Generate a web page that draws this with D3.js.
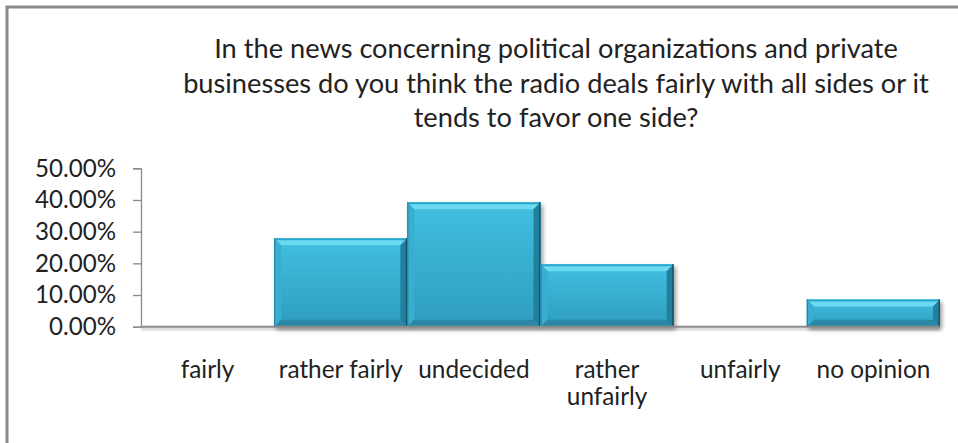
<!DOCTYPE html>
<html>
<head>
<meta charset="utf-8">
<script src="https://cdn.jsdelivr.net/npm/d3@7/dist/d3.min.js"></script>
<style>
  html, body { margin: 0; padding: 0; background: #fff; }
  svg { display: block; }
  text { font-family: Lato, "Open Sans", sans-serif; fill: #222; }
</style>
</head>
<body>
<svg id="chart" width="958" height="443"></svg>
<script>
// Survey answers and their shares
const categories = ["fairly", "rather fairly", "undecided", "rather unfairly", "unfairly", "no opinion"];
const shares = [0, 0.279, 0.393, 0.197, 0, 0.086];
const tickValues = [0, 0.1, 0.2, 0.3, 0.4, 0.5];
const titleLines = [
  "In the news concerning political organizations and private",
  "businesses do you think the radio deals fairly with all sides or it",
  "tends to favor one side?"
];

const svg = d3.select("#chart");
const W = 958, H = 443;

// Outer frame (runs past the right and bottom edges)
svg.append("rect")
  .attr("x", 7).attr("y", 7)
  .attr("width", W + 10).attr("height", H + 10)
  .attr("fill", "#fff")
  .attr("stroke", "#8a8a8a").attr("stroke-width", 3);

const defs = svg.append("defs");
const grad = defs.append("linearGradient").attr("id", "barBody")
  .attr("x1", 0).attr("y1", 0).attr("x2", 0).attr("y2", 1);
grad.append("stop").attr("offset", "0%").attr("stop-color", "#41bfe2");
grad.append("stop").attr("offset", "100%").attr("stop-color", "#2f9dbd");

const shadow = defs.append("filter").attr("id", "barShadow")
  .attr("x", "-10%").attr("y", "-10%").attr("width", "130%").attr("height", "140%");
shadow.append("feGaussianBlur").attr("in", "SourceAlpha").attr("stdDeviation", 2).attr("result", "b");
shadow.append("feOffset").attr("in", "b").attr("dx", 2).attr("dy", 3).attr("result", "o");
shadow.append("feComponentTransfer").attr("in", "o").attr("result", "s")
  .append("feFuncA").attr("type", "linear").attr("slope", 0.4);
const merge = shadow.append("feMerge");
merge.append("feMergeNode").attr("in", "s");
merge.append("feMergeNode").attr("in", "SourceGraphic");

// Scales
const x = d3.scaleBand().domain(categories).range([141, 940]).padding(0);
const y = d3.scaleLinear().domain([0, 0.5]).range([326.7, 168.3]);

// Size a group of texts so that one reference text reaches a given width
function fitSize(sel, refNode, baseSize, width) {
  const s = baseSize * width / refNode.getComputedTextLength();
  sel.attr("font-size", s);
  return s;
}

// Title
const title = svg.append("g");
titleLines.forEach((line, i) =>
  title.append("text")
    .attr("x", 556).attr("y", 58 + i * 34.5)
    .attr("text-anchor", "middle")
    .attr("font-size", 21)
    .text(line));
fitSize(title.selectAll("text"), title.selectAll("text").nodes()[1], 21, 746);

// Y axis
const yAxis = svg.append("g").attr("transform", "translate(141,0)")
  .call(d3.axisLeft(y).tickValues(tickValues).tickSize(8).tickPadding(17)
    .tickFormat(d => (d * 100).toFixed(2) + "%"));
yAxis.select(".domain").attr("stroke", "#8a8a8a").attr("stroke-width", 1.3);
yAxis.selectAll(".tick line").attr("stroke", "#8a8a8a").attr("stroke-width", 1.3);
const tickText = yAxis.selectAll(".tick text")
  .attr("font-size", 19).attr("fill", "#222")
  .style("font-family", "Lato, sans-serif");
fitSize(tickText, tickText.nodes()[tickText.size() - 1], 19, 81);

// Bars with bevelled edges
const bars = svg.append("g");
const bv = 7;
categories.forEach((c, i) => {
  const v = shares[i];
  if (v <= 0) return;
  const x0 = x(c), x1 = x(c) + x.bandwidth();
  const y0 = y(v), y1 = y(0);
  const g = bars.append("g").attr("filter", "url(#barShadow)");
  g.append("rect").attr("x", x0).attr("y", y0)
    .attr("width", x1 - x0).attr("height", y1 - y0)
    .attr("fill", "url(#barBody)");
  const b = Math.min(bv, (y1 - y0) / 2);
  // top bevel
  g.append("polygon")
    .attr("points", [[x0, y0], [x1, y0], [x1 - b, y0 + b], [x0 + b, y0 + b]].join(" "))
    .attr("fill", "#6cdbf2");
  // left bevel
  g.append("polygon")
    .attr("points", [[x0, y0], [x0 + b, y0 + b], [x0 + b, y1 - b], [x0, y1]].join(" "))
    .attr("fill", "#38aed2");
  // right bevel
  g.append("polygon")
    .attr("points", [[x1, y0], [x1, y1], [x1 - b, y1 - b], [x1 - b, y0 + b]].join(" "))
    .attr("fill", "#24809d");
  // bottom bevel
  g.append("polygon")
    .attr("points", [[x0, y1], [x0 + b, y1 - b], [x1 - b, y1 - b], [x1, y1]].join(" "))
    .attr("fill", "#2a88a6");
  // edge accents
  g.append("line").attr("x1", x0).attr("x2", x1).attr("y1", y0 + 1).attr("y2", y0 + 1)
    .attr("stroke", "#2aa6cc").attr("stroke-width", 2);
  g.append("line").attr("x1", x1 - 0.75).attr("x2", x1 - 0.75).attr("y1", y0).attr("y2", y1)
    .attr("stroke", "#15566b").attr("stroke-width", 1.5);
  g.append("line").attr("x1", x0 + 0.5).attr("x2", x0 + 0.5).attr("y1", y0).attr("y2", y1)
    .attr("stroke", "#1f7d99").attr("stroke-width", 1);
});

// Baseline (category axis)
const base = svg.append("g");
base.append("line")
  .attr("x1", 141).attr("x2", 940).attr("y1", y(0) + 2.5).attr("y2", y(0) + 2.5)
  .attr("stroke", "#000").attr("stroke-opacity", 0.12).attr("stroke-width", 3);
base.append("line")
  .attr("x1", 141).attr("x2", 940).attr("y1", y(0)).attr("y2", y(0))
  .attr("stroke", "#8a8a8a").attr("stroke-width", 2);

// Category labels
const labelLines = {
  "rather unfairly": ["rather", "unfairly"]
};
const catG = svg.append("g");
categories.forEach(c => {
  const lines = labelLines[c] || [c];
  lines.forEach((ln, j) => {
    catG.append("text")
      .datum(ln)
      .attr("x", x(c) + x.bandwidth() / 2)
      .attr("y", 378 + j * 27)
      .attr("text-anchor", "middle")
      .attr("font-size", 19)
      .text(ln);
  });
});
fitSize(catG.selectAll("text"),
  catG.selectAll("text").filter(d => d === "rather fairly").node(), 19, 124);
</script>
</body>
</html>
